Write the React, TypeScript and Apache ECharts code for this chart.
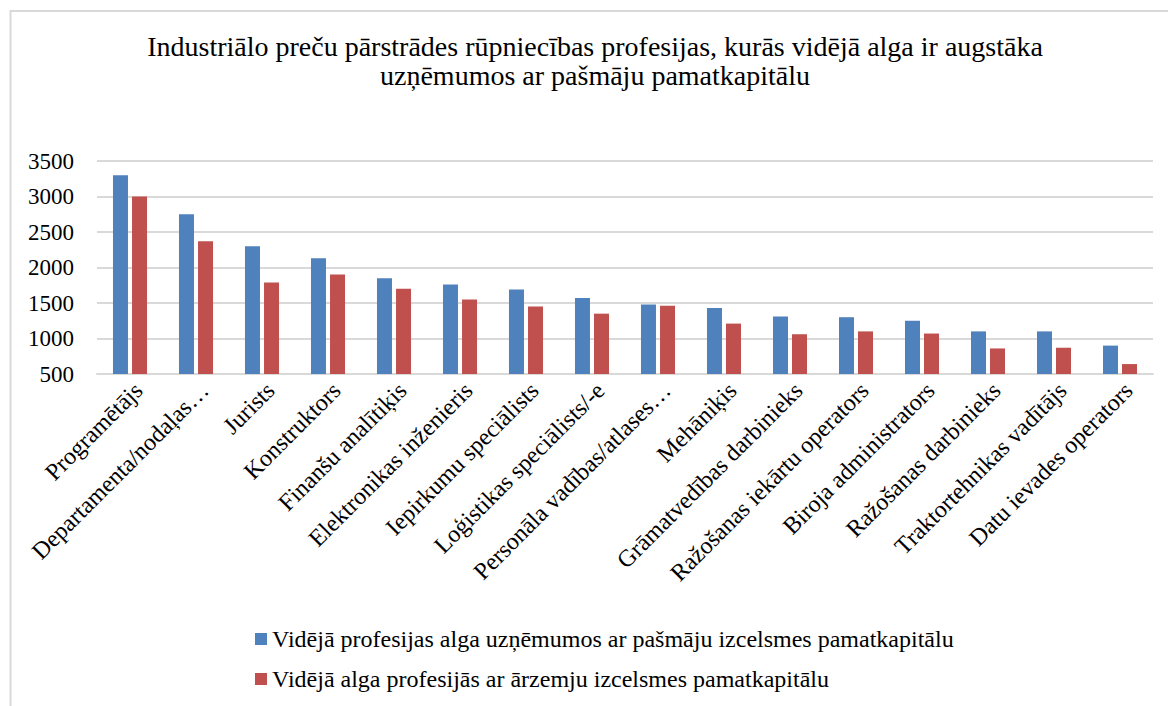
import React, { useEffect, useRef } from "react";
import * as echarts from "echarts";

const categories = [
  "Programētājs",
  "Departamenta/nodaļas…",
  "Jurists",
  "Konstruktors",
  "Finanšu analītiķis",
  "Elektronikas inženieris",
  "Iepirkumu speciālists",
  "Loģistikas speciālists/-e",
  "Personāla vadības/atlases…",
  "Mehāniķis",
  "Grāmatvedības darbinieks",
  "Ražošanas iekārtu operators",
  "Biroja administrators",
  "Ražošanas darbinieks",
  "Traktortehnikas vadītājs",
  "Datu ievades operators",
];

const domesticValues = [3300, 2750, 2300, 2130, 1850, 1760, 1690, 1570, 1480, 1430, 1310, 1300, 1250, 1100, 1100, 900];
const foreignValues = [3000, 2370, 1790, 1900, 1700, 1550, 1450, 1350, 1460, 1210, 1060, 1100, 1070, 860, 870, 640];

const seriesNames = [
  "Vidējā profesijas alga uzņēmumos ar pašmāju izcelsmes pamatkapitālu",
  "Vidējā alga profesijās ar ārzemju izcelsmes pamatkapitālu",
];

const titleLines = [
  "Industriālo preču pārstrādes rūpniecības profesijas, kurās vidējā alga ir augstāka",
  "uzņēmumos ar pašmāju pamatkapitālu",
];

const FONT = "'Liberation Serif', 'Times New Roman', serif";

export default function App() {
  const ref = useRef<HTMLDivElement>(null);
  useEffect(() => {
    if (!ref.current) return;
    const chart = echarts.init(ref.current, null, { renderer: "svg" });
    chart.setOption({
      animation: false,
      backgroundColor: "#ffffff",
      textStyle: { fontFamily: FONT, color: "#000" },
      graphic: [
        {
          type: "rect",
          shape: { x: 10.5, y: 11, width: 1200, height: 800 },
          style: { fill: "none", stroke: "#d9d9d9", lineWidth: 2 },
          silent: true,
        },
        {
          type: "text",
          x: 595,
          y: 32,
          style: {
            text: titleLines.join("\n"),
            textAlign: "center",
            textVerticalAlign: "top",
            fontFamily: FONT,
            fontSize: 28,
            lineHeight: 29,
            fill: "#000",
          },
        },
      ],
      legend: {
        orient: "vertical",
        left: 250,
        top: 622,
        itemWidth: 12,
        itemHeight: 12,
        itemGap: 16,
        icon: "rect",
        textStyle: { fontFamily: FONT, fontSize: 24, color: "#000" },
        data: seriesNames,
      },
      grid: { left: 97, right: 15, top: 161, bottom: 332, containLabel: false },
      xAxis: {
        type: "category",
        data: categories,
        axisLine: { show: true, lineStyle: { color: "#d9d9d9", width: 2 } },
        axisTick: { show: false },
        axisLabel: {
          rotate: 45,
          interval: 0,
          margin: 4,
          verticalAlign: "top",
          fontFamily: FONT,
          fontSize: 24,
          color: "#000",
        },
      },
      yAxis: {
        type: "value",
        min: 500,
        max: 3500,
        interval: 500,
        axisLine: { show: false },
        axisTick: { show: false },
        splitLine: { lineStyle: { color: "#d9d9d9", width: 2 } },
        axisLabel: {
          margin: 23,
          fontFamily: FONT,
          fontSize: 23,
          color: "#000",
          formatter: (v: number) => String(v),
        },
      },
      series: [
        {
          name: seriesNames[0],
          type: "bar",
          data: domesticValues,
          barWidth: 15,
          barGap: "27%",
          itemStyle: { color: "#4F81BD" },
        },
        {
          name: seriesNames[1],
          type: "bar",
          data: foreignValues,
          barWidth: 15,
          itemStyle: { color: "#C0504D" },
        },
      ],
    });
    return () => chart.dispose();
  }, []);
  return (
    <div
      ref={ref}
      style={{ position: "absolute", left: 0, top: 0, width: 1168, height: 706 }}
    />
  );
}
